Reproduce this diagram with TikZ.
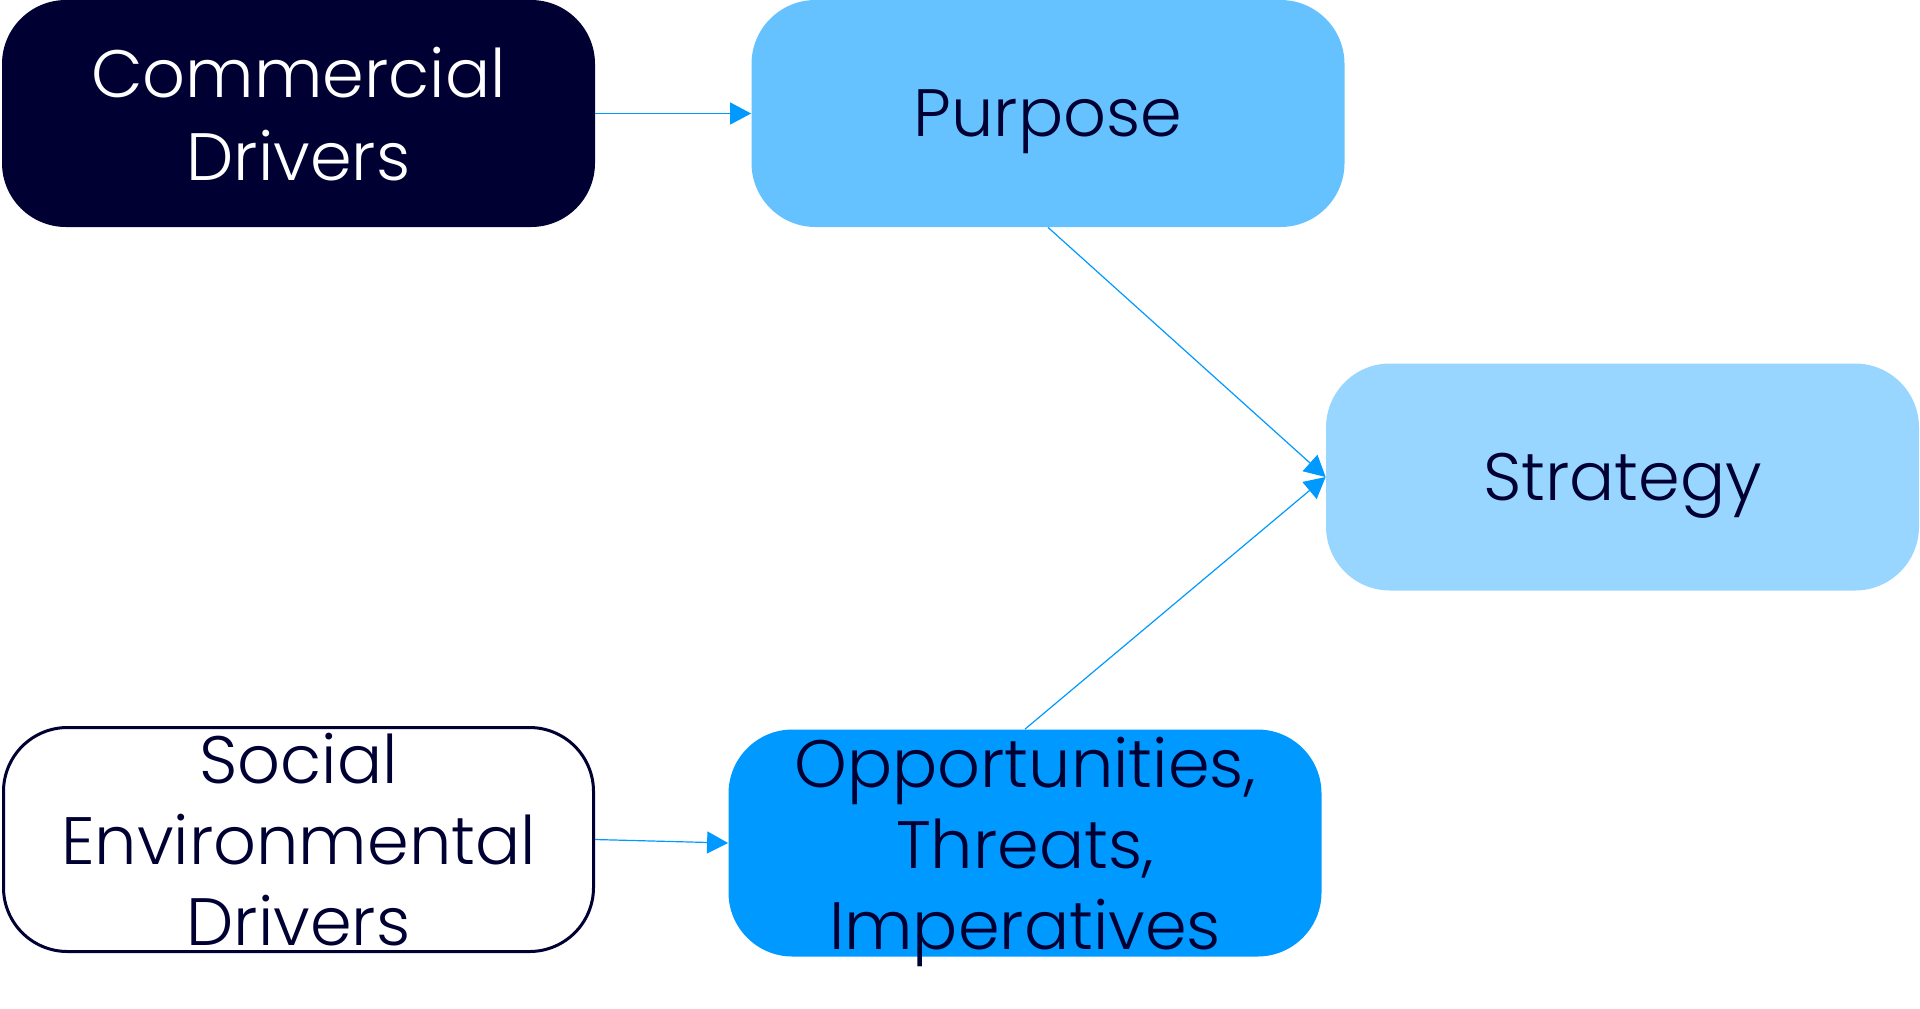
\documentclass[tikz,border=0pt]{standalone}
\usepackage{fontspec}
\setmainfont{Poppins}[UprightFont=* Light]
\usepackage{xcolor}
\usepackage{tikz}
\usetikzlibrary{arrows.meta}
\definecolor{navyink}{RGB}{0,0,51}
\definecolor{skyblue}{RGB}{102,194,255}
\definecolor{paleblue}{RGB}{153,214,255}
\definecolor{brightblue}{RGB}{0,153,255}

\begin{document}
\begin{tikzpicture}[
  x=0.5pt, y=-0.5pt,
  card/.style={rectangle, rounded corners=32pt, draw=none,
               minimum width=296.5pt, minimum height=113.5pt, inner sep=0pt,
               text depth=0pt, align=center, text=navyink,
               font=\fontsize{33.5}{40.5}\selectfont},
  darkcard/.style={card, fill=navyink, text=white},
  outlinecard/.style={card, draw=navyink, line width=1.5pt, fill=white,
                      minimum width=295pt, minimum height=112pt},
  arrow/.style={-{Triangle[length=10.5pt, width=11pt]}, draw=brightblue,
                line width=0.6pt}
]
\useasboundingbox (0,0) rectangle (1920,1008);

\node[darkcard, font=\fontsize{33.5}{41.5}\selectfont] (comm) at (298.5,113.5) {Commercial\\Drivers};
\node[card, fill=skyblue] (purp) at (1048,113.5) {Purpose};
\node[card, fill=paleblue] (strat) at (1622.5,477) {Strategy};
\node[outlinecard] (soc) at (298.5,839.5) {Social\\Environmental\\Drivers};
\node[card, fill=brightblue] (opp) at (1025,843) {Opportunities,\\Threats,\\Imperatives};

\draw[arrow] (comm) -- (purp);
\draw[arrow] (soc.east) -- (opp.west);
\draw[arrow] (purp.south) -- (strat.west);
\draw[arrow] (opp.north) -- (strat.west);
\end{tikzpicture}
\end{document}
